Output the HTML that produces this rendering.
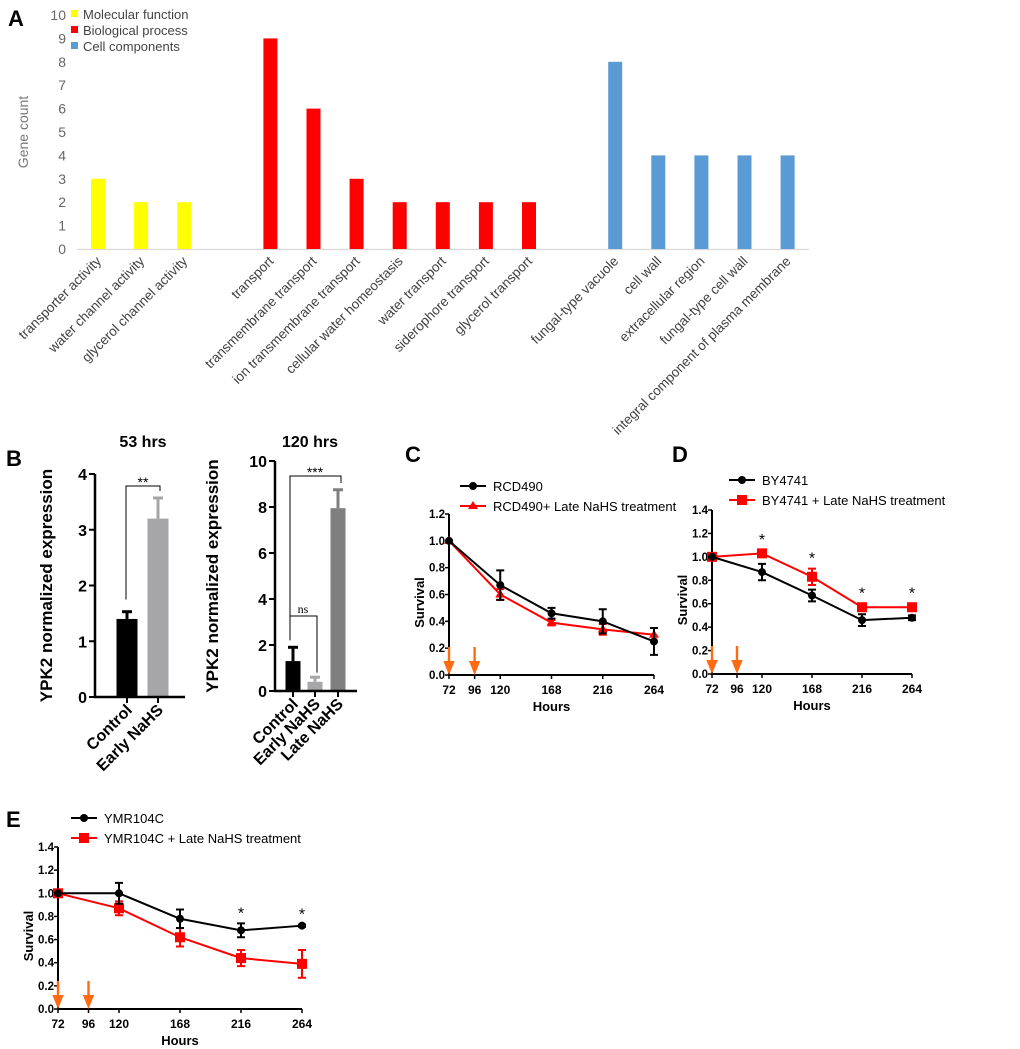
<!DOCTYPE html>
<html><head><meta charset="utf-8"><style>
html,body{margin:0;padding:0;background:#fff;}
svg{display:block;font-family:"Liberation Sans",Arial,sans-serif;}
</style></head><body>
<svg id="fig" width="1020" height="1049" viewBox="0 0 1020 1049" xmlns="http://www.w3.org/2000/svg"></svg>
<script>
// Panel A data
const goCategories = ["transporter activity","water channel activity","glycerol channel activity","transport","transmembrane transport","ion transmembrane transport","cellular water homeostasis","water transport","siderophore transport","glycerol transport","fungal-type vacuole","cell wall","extracellular region","fungal-type cell wall","integral component of plasma membrane"];
const goCounts = [3,2,2,9,6,3,2,2,2,2,8,4,4,4,4];
const goGroups = [0,0,0,1,1,1,1,1,1,1,2,2,2,2,2];
const goSlots = [0,1,2,4,5,6,7,8,9,10,12,13,14,15,16];
const goTicks = [0,1,2,3,4,5,6,7,8,9,10];
const goLegend = ["Molecular function","Biological process","Cell components"];
// Panel B data
const b53Cats = ["Control","Early NaHS"];
const b53Vals = [1.4,3.2];
const b53Errs = [0.13,0.37];
const b53Ticks = [0,1,2,3,4];
const b120Cats = ["Control","Early NaHS","Late NaHS"];
const b120Vals = [1.3,0.4,7.95];
const b120Errs = [0.6,0.2,0.8];
const b120Ticks = [0,2,4,6,8,10];
// Survival data
const hours = [72,120,168,216,264];
const hourTicks = [72,96,120,168,216,264];
const cBlack = [1.0,0.67,0.46,0.40,0.25];
const cBlackErr = [0,0.11,0.04,0.09,0.10];
const cRed = [1.0,0.60,0.39,0.34,0.30];
const cRedErr = [0,0.04,0.02,0.04,0.05];
const cTicks = [0,0.2,0.4,0.6,0.8,1.0,1.2];
const dBlack = [1.0,0.87,0.67,0.46,0.48];
const dBlackErr = [0,0.07,0.05,0.05,0.02];
const dRed = [1.0,1.03,0.83,0.57,0.57];
const dRedErr = [0,0.03,0.07,0.03,0.03];
const dTicks = [0,0.2,0.4,0.6,0.8,1.0,1.2,1.4];
const eBlack = [1.0,1.0,0.78,0.68,0.72];
const eBlackErr = [0,0.09,0.08,0.06,0.01];
const eRed = [1.0,0.87,0.62,0.44,0.39];
const eRedErr = [0,0.06,0.08,0.07,0.12];
const eTicks = dTicks;
const arrowHours = [72,96];

const NS="http://www.w3.org/2000/svg";
const svg=document.getElementById('fig');
function el(tag,attrs,parent,text){const e=document.createElementNS(NS,tag);for(const k in attrs)e.setAttribute(k,attrs[k]);if(text!==undefined)e.textContent=text;(parent||svg).appendChild(e);return e;}

// ===== Panel A =====
let t=el('text',{x:8,y:26,'font-size':22,'font-weight':'bold'},svg,'A');


const aY=v=>249-v*23.4, aX=i=>98+goSlots[i]*43.1;
const aColors=['#ffff00','#ff0000','#5b9bd5'];
let g=el('g',{});


goTicks.forEach(v=>{const tt=el('text',{x:66,y:aY(v)+5,'font-size':14,fill:'#666','text-anchor':'end'},g,String(v));

});
t=el('text',{transform:'translate(28,132) rotate(-90)','font-size':14,fill:'#777','text-anchor':'middle'},g,'Gene count');


let ln=el('line',{x1:77,x2:809,y1:249.5,y2:249.5,stroke:'#d9d9d9','stroke-width':1.2},g);


goCounts.forEach((v,i)=>{const r=el('rect',{x:aX(i)-7,y:aY(v),width:14,height:249-aY(v),fill:aColors[goGroups[i]]},g);


const tx=el('text',{transform:`translate(${aX(i)+4},${262}) rotate(-45)`,'font-size':13.5,fill:'#404040','text-anchor':'end'},g,goCategories[i]);

});
goLegend.forEach((s,i)=>{const r=el('rect',{x:71,y:10+i*16,width:7,height:7,fill:aColors[i]},g);


const tx=el('text',{x:83,y:19+i*16,'font-size':13,fill:'#444'},g,s);

});

// ===== Panel B =====
t=el('text',{x:6,y:466,'font-size':22,'font-weight':'bold'},svg,'B');


function barPanel(name,ax,y0,yTop,maxV,ticks,cats,vals,errs,xs,bw,right,title,tx,ylx,colors){
 const gg=el('g',{});
 
 
 const Y=v=>y0-(v/maxV)*(y0-yTop);
 const tt=el('text',{x:tx,y:447,'font-size':16,'font-weight':'bold','text-anchor':'middle'},gg,title);
 
 
 const yl=el('text',{transform:`translate(${ylx},${(y0+yTop)/2}) rotate(-90)`,'font-size':17,'font-weight':'bold','text-anchor':'middle'},gg,'YPK2 normalized expression');
 
 
 vals.forEach((v,i)=>{const x=xs[i];
  const e=el('line',{x1:x,x2:x,y1:Y(v),y2:Y(v+errs[i]),stroke:colors[i],'stroke-width':3},gg);
  
  
  const c=el('line',{x1:x-5,x2:x+5,y1:Y(v+errs[i]),y2:Y(v+errs[i]),stroke:colors[i],'stroke-width':3},gg);
  
  
  const r=el('rect',{x:x-bw/2,y:Y(v),width:bw,height:y0-Y(v),fill:colors[i]},gg);
  
  
  const lb=el('text',{transform:`translate(${x+6},${y0+14}) rotate(-45)`,'font-size':16,'font-weight':'bold','text-anchor':'end'},gg,cats[i]);
  
  
  const tk=el('line',{x1:x,x2:x,y1:y0,y2:y0+6,stroke:'#000','stroke-width':2},gg);
  
  });
 const a=el('path',{d:`M${ax},${yTop} V${y0} H${right}`,fill:'none',stroke:'#000','stroke-width':2.5},gg);
 
 
 ticks.forEach(v=>{const tk=el('line',{x1:ax-6,x2:ax,y1:Y(v),y2:Y(v),stroke:'#000','stroke-width':2},gg);
  
  
  const tl=el('text',{x:ax-8,y:Y(v)+6,'font-size':16,'font-weight':'bold','text-anchor':'end'},gg,String(v));
  
  });
 return {gg,Y};
}
let p1=barPanel('b-53hrs-chart',95,697,474,4,b53Ticks,b53Cats,b53Vals,b53Errs,[127,158],21,185,'53 hrs',143,52,['#000','#a6a6a8']);
let br=el('path',{d:`M126,${p1.Y(1.75)} V486 H160 V491`,fill:'none',stroke:'#000','stroke-width':1},p1.gg);


t=el('text',{x:143,y:487,'font-size':14,'text-anchor':'middle'},p1.gg,'**');


let p2=barPanel('b-120hrs-chart',275,691,461,10,b120Ticks,b120Cats,b120Vals,b120Errs,[293,315,338],15,357,'120 hrs',310,218,['#000','#a6a6a8','#7f7f7f']);
br=el('path',{d:`M290,${p2.Y(2.2)} V616 H317 V${p2.Y(0.8)}`,fill:'none',stroke:'#000','stroke-width':1},p2.gg);


t=el('text',{x:303,y:613,'font-size':12,'font-family':'Liberation Serif','text-anchor':'middle'},p2.gg,'ns');


br=el('path',{d:`M290,${p2.Y(2.2)-2} V476 H341 V483`,fill:'none',stroke:'#000','stroke-width':1},p2.gg);


t=el('text',{x:315,y:477,'font-size':14,'text-anchor':'middle'},p2.gg,'***');



// ===== Survival panels =====
function survival(name,ax,y0,x264,yTopV,yTopPx,ticks,black,blackErr,red,redErr,redShape,legend,legX,legY,stars,starOnRed){
 const gg=el('g',{});
 
 
 const X=h=>ax+(h-72)/(264-72)*(x264-ax);
 const Y=v=>y0-v/yTopV*(y0-yTopPx);
 const a=el('path',{d:`M${ax},${yTopPx} V${y0} H${x264}`,fill:'none',stroke:'#000','stroke-width':2},gg);
 
 
 ticks.forEach(v=>{const tk=el('line',{x1:ax-4,x2:ax,y1:Y(v),y2:Y(v),stroke:'#000','stroke-width':1.5},gg);
  
  
  const tl=el('text',{x:ax-4,y:Y(v)+4,'font-size':11.5,'font-weight':'bold','text-anchor':'end'},gg,v.toFixed(1));
  
  });
 hourTicks.forEach(h=>{const tk=el('line',{x1:X(h),x2:X(h),y1:y0,y2:y0+4,stroke:'#000','stroke-width':1.5},gg);
  
  
  const tl=el('text',{x:X(h),y:y0+19,'font-size':12,'font-weight':'bold','text-anchor':'middle'},gg,String(h));
  
  });
 let tt=el('text',{x:(ax+x264)/2,y:y0+36,'font-size':13,'font-weight':'bold','text-anchor':'middle'},gg,'Hours');
 
 
 tt=el('text',{transform:`translate(${ax-25},${(y0+yTopPx)/2+8}) rotate(-90)`,'font-size':13,'font-weight':'bold','text-anchor':'middle'},gg,'Survival');
 
 
 arrowHours.forEach(h=>{const x=X(h);const ar=el('path',{d:`M${x-1.2},${y0-28} h2.4 v14 h4.5 l-5.7,${14} l-5.7,-14 h4.5z`,fill:'#ff6a13'},gg);
  
  });
 function series(vals,errs,color,shape,sname){
  const pts=vals.map((v,i)=>X(hours[i])+','+Y(v)).join(' ');
  const pl=el('polyline',{points:pts,fill:'none',stroke:color,'stroke-width':2},gg);
  
  
  vals.forEach((v,i)=>{const x=X(hours[i]);
   if(errs[i]>0){const e=el('path',{d:`M${x-4},${Y(v+errs[i])} h8 M${x},${Y(v+errs[i])} V${Y(v-errs[i])} M${x-4},${Y(v-errs[i])} h8`,stroke:color,'stroke-width':2,fill:'none'},gg);
    
    }
   let m;
   if(shape==='circle')m=el('circle',{cx:x,cy:Y(v),r:4,fill:color},gg);
   else if(shape==='square')m=el('rect',{x:x-5,y:Y(v)-5,width:10,height:10,fill:color},gg);
   else m=el('path',{d:`M${x},${Y(v)-5} l5,8 h-10z`,fill:color},gg);
   
   });
 }
 series(red,redErr,'#ff0000',redShape,'treated');
 series(black,blackErr,'#000','circle','control');
 stars.forEach(h=>{const i=hours.indexOf(h);const v=starOnRed?red[i]+redErr[i]:black[i]+blackErr[i];
  const s=el('text',{x:X(h),y:Y(v)-5,'font-size':16,'text-anchor':'middle'},gg,'*');
  
  });
 [['#000','circle'],['#ff0000',redShape]].forEach((c,i)=>{const y=legY+i*20;
  const l=el('line',{x1:legX,x2:legX+26,y1:y,y2:y,stroke:c[0],'stroke-width':2},gg);
  
  
  const cx=legX+13;let m;
  if(c[1]==='circle')m=el('circle',{cx:cx,cy:y,r:4,fill:c[0]},gg);
  else if(c[1]==='square')m=el('rect',{x:cx-5,y:y-5,width:10,height:10,fill:c[0]},gg);
  else m=el('path',{d:`M${cx},${y-5} l5,8 h-10z`,fill:c[0]},gg);
  
  
  const lt=el('text',{x:legX+33,y:y+5,'font-size':13},gg,legend[i]);
  
  });
}
t=el('text',{x:405,y:462,'font-size':22,'font-weight':'bold'},svg,'C');


survival('c-rcd490-chart',449,675,654,1.2,514,cTicks,cBlack,cBlackErr,cRed,cRedErr,'triangle',['RCD490','RCD490+ Late NaHS treatment'],460,486,[],true);
t=el('text',{x:672,y:462,'font-size':22,'font-weight':'bold'},svg,'D');


survival('d-by4741-chart',712,674,912,1.4,510,dTicks,dBlack,dBlackErr,dRed,dRedErr,'square',['BY4741','BY4741 + Late NaHS treatment'],729,480,[120,168,216,264],true);
t=el('text',{x:6,y:827,'font-size':22,'font-weight':'bold'},svg,'E');


survival('e-ymr104c-chart',58,1009,302,1.4,847,eTicks,eBlack,eBlackErr,eRed,eRedErr,'square',['YMR104C','YMR104C + Late NaHS treatment'],71,818,[216,264],false);
</script>
</body></html>
